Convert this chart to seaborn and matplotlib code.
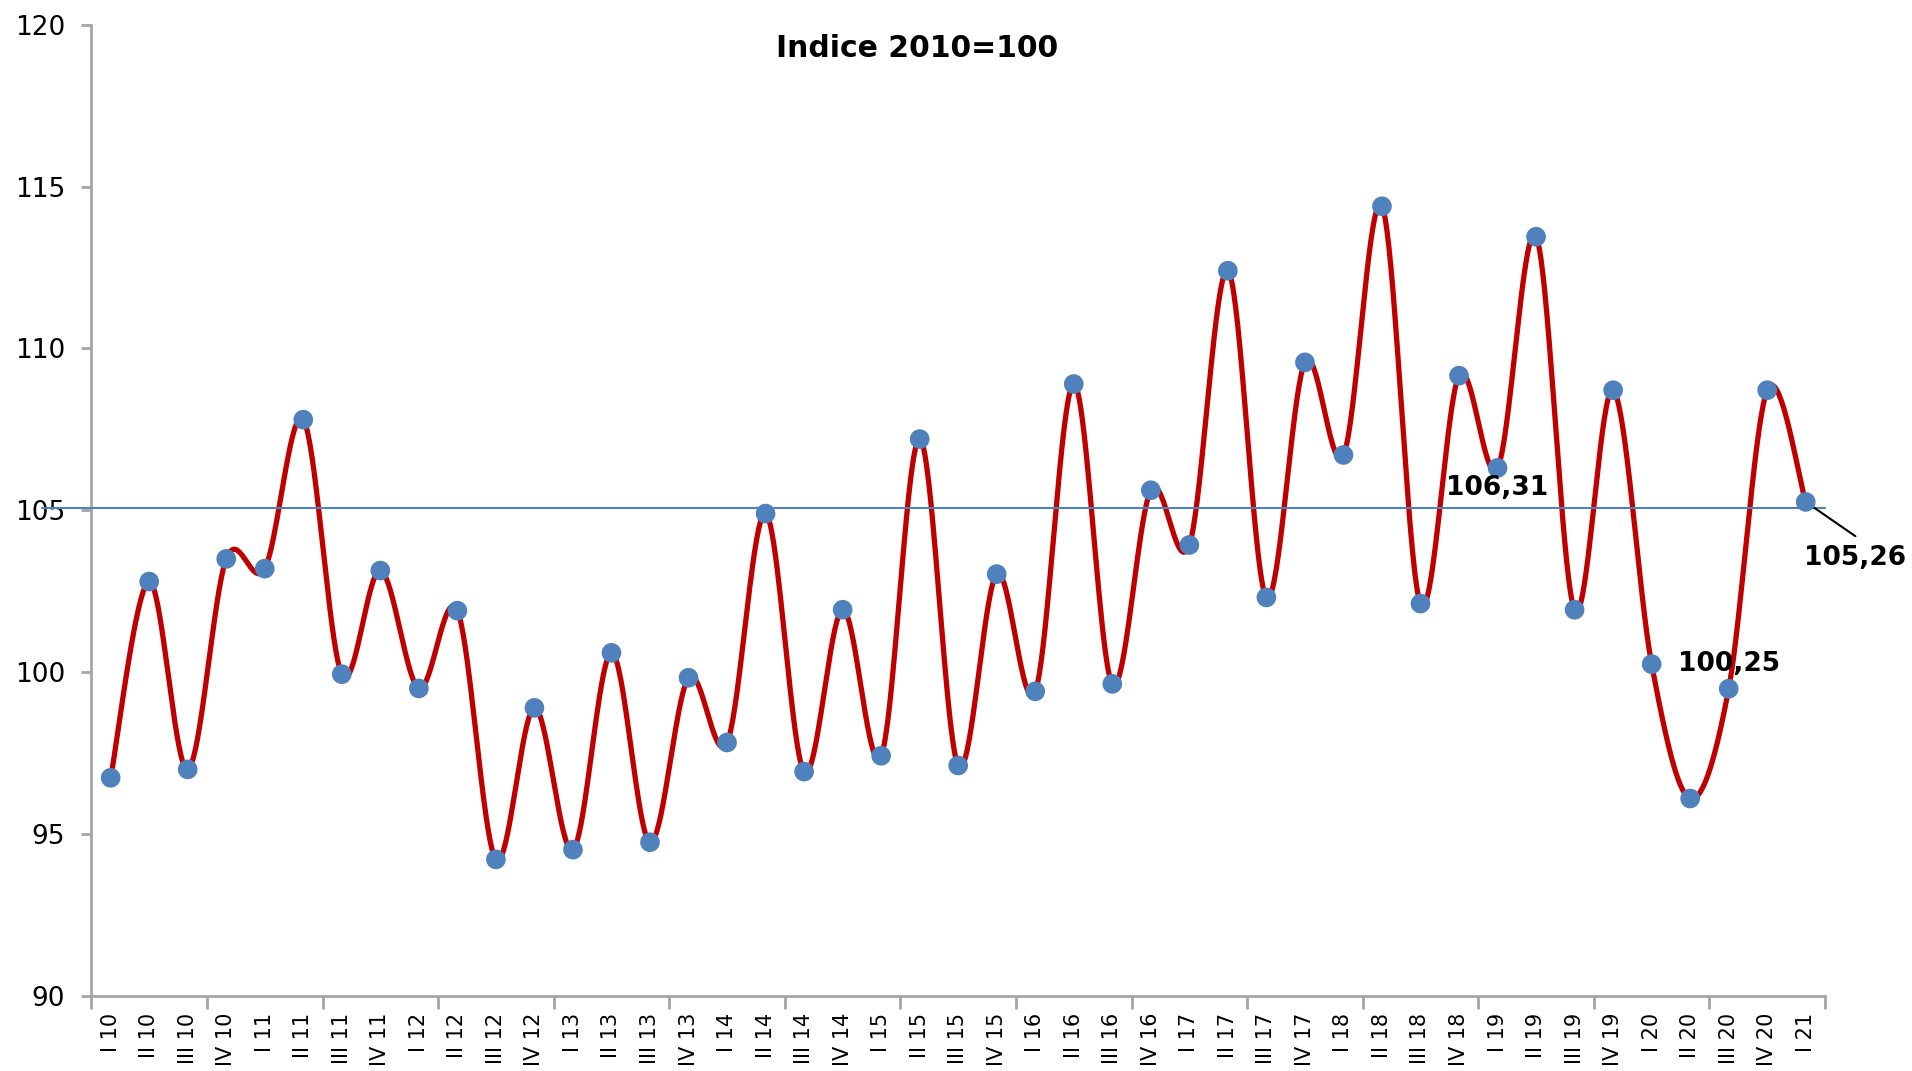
import numpy as np
import pandas as pd
import matplotlib
matplotlib.use("Agg")
import matplotlib.pyplot as plt
import seaborn as sns

# quarterly index values, I 10 .. I 21 (2010=100)
quarters = ['I', 'II', 'III', 'IV']
years = ['10', '11', '12', '13', '14', '15', '16', '17', '18', '19', '20', '21']
labels = [q + ' ' + y for y in years for q in quarters][:45]
values = [96.74, 102.80, 97.00, 103.50, 103.20, 107.80, 99.94, 103.14,
          99.50, 101.90, 94.22, 98.90, 94.52, 100.60, 94.75, 99.83,
          97.83, 104.90, 96.93, 101.93, 97.42, 107.20, 97.12, 103.03,
          99.41, 108.90, 99.64, 105.62, 103.93, 112.40, 102.31, 109.57,
          106.71, 114.39, 102.12, 109.16, 106.31, 113.45, 101.93, 108.71,
          100.25, 96.10, 99.49, 108.71, 105.26]
ref_level = 105.07
labelled = {36: '106,31', 40: '100,25', 44: '105,26'}

RED = '#C00000'
BLUE = '#4F81BD'
GREY = '#A6A6A6'

sns.set_style("white")
plt.rcParams['font.family'] = ['DejaVu Sans']
plt.rcParams['text.color'] = 'black'
plt.rcParams['xtick.color'] = 'black'
plt.rcParams['ytick.color'] = 'black'

df = pd.DataFrame({'pos': np.arange(len(values)), 'value': values})


# Excel-like smoothed line: cubic Bezier through the points
def smooth_curve(x, y, n=40):
    x = np.asarray(x, float)
    y = np.asarray(y, float)
    px = np.concatenate([[x[0]], x, [x[-1]]])
    py = np.concatenate([[y[0]], y, [y[-1]]])
    xs, ys = [], []
    t = np.linspace(0, 1, n)
    for i in range(1, len(px) - 2):
        p0 = np.array([px[i], py[i]])
        p3 = np.array([px[i + 1], py[i + 1]])
        c1 = p0 + (np.array([px[i + 1], py[i + 1]]) - np.array([px[i - 1], py[i - 1]])) / 6
        c2 = p3 - (np.array([px[i + 2], py[i + 2]]) - np.array([px[i], py[i]])) / 6
        b = ((1 - t) ** 3)[:, None] * p0 + (3 * (1 - t) ** 2 * t)[:, None] * c1 \
            + (3 * (1 - t) * t ** 2)[:, None] * c2 + (t ** 3)[:, None] * p3
        xs.extend(b[:, 0])
        ys.extend(b[:, 1])
    return pd.DataFrame({'x': xs, 'y': ys})


curve = smooth_curve(df['pos'], df['value'])

fig = plt.figure(figsize=(19.12, 10.71), dpi=100)
ax = fig.add_axes([0.0478, 0.070, 0.9067, 0.907])

sns.lineplot(data=curve, x='x', y='y', sort=False, color=RED, lw=3.8, ax=ax, zorder=2)
# reference line runs a bit past the y axis, like in the original
ax.axhline(ref_level, xmin=-0.0285, xmax=1.0, color=BLUE, lw=1.5, zorder=3, clip_on=False)
sns.scatterplot(data=df, x='pos', y='value', s=200, color=BLUE, edgecolor='none', ax=ax, zorder=5)

ax.set_xlim(-0.5, len(values) - 0.5)
ax.set_ylim(90, 120)
ax.set_yticks(np.arange(90, 121, 5))
ax.set_xticks(np.arange(-0.5, len(values), 3))
ax.set_xticklabels([])
ax.set_xticks(np.arange(len(values)), minor=True)
ax.set_xticklabels(labels, minor=True, rotation=90, fontsize=15)
ax.tick_params(axis='x', which='major', length=9, width=2, color=GREY, direction='out', bottom=True)
ax.tick_params(axis='x', which='minor', length=0, pad=12)
ax.tick_params(axis='y', length=7, width=2, color=GREY, direction='out', left=True, labelsize=19, pad=12)
ax.set_xlabel('')
ax.set_ylabel('')

for side in ['top', 'right']:
    ax.spines[side].set_visible(False)
for side in ['left', 'bottom']:
    ax.spines[side].set_color(GREY)
    ax.spines[side].set_linewidth(2)

fig.text(0.4796, 0.9544, 'Indice 2010=100', ha='center', va='center', fontsize=21.5, fontweight='bold')

ax.text(36.0, 105.68, labelled[36], ha='center', va='center', fontsize=19, fontweight='bold', zorder=6)
ax.text(42.0, 100.24, labelled[40], ha='center', va='center', fontsize=19, fontweight='bold', zorder=6)
ax.text(45.29, 103.52, labelled[44], ha='center', va='center', fontsize=19, fontweight='bold', zorder=6,
        clip_on=False)
ax.annotate('', xy=(44, values[44]), xytext=(45.29, 104.2), annotation_clip=False,
            arrowprops=dict(arrowstyle='-', color='black', lw=1.5, shrinkA=0, shrinkB=0))

fig.savefig('out.png', dpi=100)
